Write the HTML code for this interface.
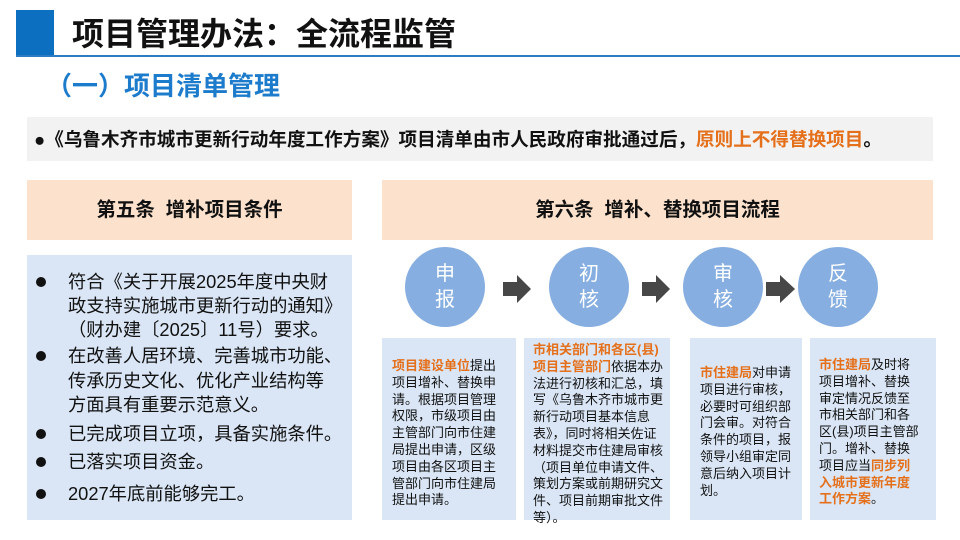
<!DOCTYPE html>
<html><head><meta charset="utf-8"><style>
*{margin:0;padding:0;box-sizing:border-box}
body{width:960px;height:540px;position:relative;background:#fff;font-family:"Liberation Sans","Noto Sans CJK SC",sans-serif;overflow:hidden;color:#111}
.a{position:absolute}
.o{color:#e5701b;font-weight:bold}
.circ{position:absolute;width:80px;height:80px;border-radius:50%;background:#86aee0;color:#fff;font-size:20px;line-height:26px;text-align:center;padding-top:14px}
.box{position:absolute;top:338px;height:182px;background:#dae6f5;font-size:13px;line-height:16.8px;white-space:nowrap}
.l{position:absolute;left:68px;font-size:18.3px;white-space:nowrap;line-height:24px}
.b{position:absolute;left:36px;width:10px;height:10px;border-radius:50%;background:#111}
</style></head><body>
<div class="a" style="left:16px;top:10px;width:38px;height:47px;background:#0d6fc0"></div>
<div class="a" style="left:16px;top:55px;width:944px;height:2px;background:#2e7bc4"></div>
<div class="a" style="left:72px;top:13px;font-size:32px;font-weight:bold;line-height:42px;white-space:nowrap">项目管理办法：全流程监管</div>
<div class="a" style="left:46px;top:68px;font-size:26px;font-weight:bold;color:#1d7bcc;line-height:36px;white-space:nowrap">（一）项目清单管理</div>
<div class="a" style="left:27px;top:117px;width:906px;height:44px;background:#f2f2f2"></div>
<div class="a" style="left:34px;top:127px;font-size:18.6px;font-weight:bold;line-height:26px;white-space:nowrap">●《乌鲁木齐市城市更新行动年度工作方案》项目清单由市人民政府审批通过后，<span style="color:#e5701b">原则上不得替换项目</span>。</div>
<div class="a" style="left:27px;top:180px;width:325px;height:60px;background:#fce2cd;font-size:19.5px;font-weight:bold;line-height:60px;text-align:center">第五条&nbsp; 增补项目条件</div>
<div class="a" style="left:382px;top:180px;width:551px;height:60px;background:#fce2cd;font-size:19.5px;font-weight:bold;line-height:60px;text-align:center">第六条&nbsp; 增补、替换项目流程</div>
<div class="a" style="left:27px;top:255px;width:325px;height:265px;background:#dae6f5"></div>
<div class="b" style="top:277px"></div><div class="l" style="top:270px">符合《关于开展2025年度中央财</div>
<div class="l" style="top:294px">政支持实施城市更新行动的通知》</div>
<div class="l" style="top:318px">（财办建〔2025〕11号）要求。</div>
<div class="b" style="top:351px"></div><div class="l" style="top:344px">在改善人居环境、完善城市功能、</div>
<div class="l" style="top:369px">传承历史文化、优化产业结构等</div>
<div class="l" style="top:393px">方面具有重要示范意义。</div>
<div class="b" style="top:429px"></div><div class="l" style="top:422px">已完成项目立项，具备实施条件。</div>
<div class="b" style="top:457px"></div><div class="l" style="top:450px">已落实项目资金。</div>
<div class="b" style="top:489px"></div><div class="l" style="top:482px">2027年底前能够完工。</div>

<div class="circ" style="left:405px;top:247px">申<br>报</div>
<div class="circ" style="left:549px;top:247px">初<br>核</div>
<div class="circ" style="left:683px;top:247px">审<br>核</div>
<div class="circ" style="left:798px;top:247px">反<br>馈</div>
<svg class="a" style="left:0;top:0" width="960" height="540">
<g fill="#474747">
<polygon points="503,282 517,282 517,275 531,289 517,303 517,296 503,296"/>
<polygon points="642,282 656,282 656,275 670,289 656,303 656,296 642,296"/>
<polygon points="766,282 780,282 780,275 795,289 780,303 780,296 766,296"/>
</g></svg>

<div class="box" style="left:382px;width:134px;padding:20px 0 0 10px"><span class="o">项目建设单位</span>提出<br>项目增补、替换申<br>请。根据项目管理<br>权限，市级项目由<br>主管部门向市住建<br>局提出申请，区级<br>项目由各区项目主<br>管部门向市住建局<br>提出申请。</div>
<div class="box" style="left:524px;width:146px;padding:4px 0 0 9px"><span class="o">市相关部门和各区(县)</span><br><span class="o">项目主管部门</span>依据本办<br>法进行初核和汇总，填<br>写《乌鲁木齐市城市更<br>新行动项目基本信息<br>表》，同时将相关佐证<br>材料提交市住建局审核<br>（项目单位申请文件、<br>策划方案或前期研究文<br>件、项目前期审批文件<br>等）。</div>
<div class="box" style="left:690px;width:112px;padding:27px 0 0 10px"><span class="o">市住建局</span>对申请<br>项目进行审核，<br>必要时可组织部<br>门会审。对符合<br>条件的项目，报<br>领导小组审定同<br>意后纳入项目计<br>划。</div>
<div class="box" style="left:810px;width:126px;padding:19px 0 0 9px"><span class="o">市住建局</span>及时将<br>项目增补、替换<br>审定情况反馈至<br>市相关部门和各<br>区(县)项目主管部<br>门。增补、替换<br>项目应当<span class="o">同步列</span><br><span class="o">入城市更新年度</span><br><span class="o">工作方案</span>。</div>
</body></html>
